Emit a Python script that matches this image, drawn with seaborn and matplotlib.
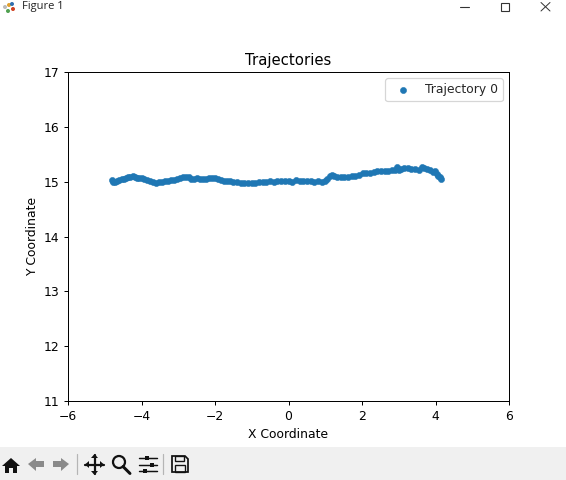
import matplotlib
matplotlib.use("Agg")
import matplotlib.pyplot as plt
from matplotlib.patches import Polygon, Circle, Rectangle
import seaborn as sns

x_values = [-4.80, -4.78, -4.72, -4.66, -4.60, -4.54, -4.48, -4.42, -4.36, -4.30, -4.24, -4.18, -4.12, -4.06, -4.00,
            -3.92, -3.84, -3.76, -3.68, -3.60, -3.52, -3.44, -3.36, -3.28, -3.20, -3.12, -3.04, -2.96, -2.88, -2.80,
            -2.72, -2.64, -2.56, -2.48, -2.40, -2.32, -2.24, -2.16, -2.08, -2.00, -1.92, -1.84, -1.76, -1.68, -1.60,
            -1.50, -1.40, -1.30, -1.20, -1.10, -1.00, -0.90, -0.80, -0.70, -0.60, -0.50, -0.40, -0.30, -0.20, -0.10,
            0.00, 0.10, 0.20, 0.30, 0.40, 0.50, 0.60, 0.70, 0.80, 0.90, 1.00, 1.06, 1.12, 1.18, 1.24,
            1.32, 1.42, 1.52, 1.62, 1.72, 1.82, 1.92, 2.02, 2.12, 2.22, 2.32, 2.42, 2.52, 2.62, 2.72,
            2.82, 2.90, 2.94, 3.00, 3.06, 3.14, 3.24, 3.34, 3.44, 3.54, 3.62, 3.70, 3.78, 3.86, 3.92,
            3.98, 4.04, 4.08, 4.12, 4.15]
y_values = [15.03, 15.00, 15.00, 15.01, 15.03, 15.04, 15.05, 15.07, 15.08, 15.08, 15.10, 15.09, 15.07, 15.07, 15.06,
            15.05, 15.03, 15.02, 14.99, 14.98, 14.99, 15.00, 15.01, 15.02, 15.03, 15.03, 15.04, 15.06, 15.08, 15.08,
            15.09, 15.05, 15.05, 15.06, 15.05, 15.05, 15.05, 15.06, 15.07, 15.07, 15.05, 15.03, 15.02, 15.01, 15.01,
            15.00, 15.00, 14.98, 14.97, 14.98, 14.98, 14.98, 14.99, 14.99, 15.00, 15.01, 15.00, 15.02, 15.02, 15.01,
            15.01, 15.00, 15.03, 15.02, 15.01, 15.02, 15.02, 15.00, 15.01, 15.00, 15.01, 15.05, 15.10, 15.12, 15.11,
            15.09, 15.09, 15.09, 15.09, 15.10, 15.11, 15.13, 15.15, 15.16, 15.16, 15.18, 15.19, 15.20, 15.20, 15.19,
            15.21, 15.22, 15.27, 15.21, 15.24, 15.25, 15.25, 15.24, 15.24, 15.22, 15.26, 15.25, 15.23, 15.21, 15.17,
            15.19, 15.14, 15.10, 15.08, 15.05]
series_label = "Trajectory 0"
title_text = "Trajectories"
x_label = "X Coordinate"
y_label = "Y Coordinate"
window_title = "Figure 1"

W, H = 566, 480
DPI = 89
sns.set_theme(style="ticks", rc={"axes.spines.top": True, "axes.spines.right": True,
                                 "axes.edgecolor": "black", "axes.labelcolor": "black",
                                 "xtick.color": "black", "ytick.color": "black",
                                 "font.family": ["DejaVu Sans"]})
fig = plt.figure(figsize=(W / DPI, H / DPI), dpi=DPI)
ax = fig.add_axes([68 / W, 1 - 401 / H, 441 / W, 329 / H])
sns.scatterplot(x=x_values, y=y_values, label=series_label, s=25, color="#1f77b4",
                edgecolor="#1f77b4", linewidth=0.4, ax=ax)
ax.set_xlim(-6, 6)
ax.set_ylim(11, 17)
ax.set_xticks(range(-6, 7, 2))
ax.set_yticks(range(11, 18))
ax.tick_params(labelsize=10, length=3.5, width=0.8)
for s in ax.spines.values():
    s.set_linewidth(0.8)
ax.set_title(title_text, fontsize=12, color="black", pad=6)
ax.set_xlabel(x_label, fontsize=10, labelpad=4)
ax.set_ylabel(y_label, fontsize=10, labelpad=4)
ax.legend(loc="upper right", fontsize=10, frameon=True, fancybox=True, framealpha=0.8)

# Window frame: title bar and toolbar, drawn on an overlay in screen pixels
ui = fig.add_axes([0, 0, 1, 1], zorder=5)
ui.set_xlim(0, W)
ui.set_ylim(H, 0)
ui.axis("off")
ui.patch.set_alpha(0)
ui.add_patch(Rectangle((0, 447), W, 33, fc="#f0f0f0", ec="none"))
ui.text(22, 7, window_title, fontsize=9, va="center", ha="left", family="Open Sans", color="#222222")
for (cx, cy, c) in [(9, 5, "#e0a030"), (13, 9, "#d04020"), (8, 11, "#50a050"), (12, 4, "#3070b0"), (5, 7, "#bbbbbb")]:
    ui.add_patch(Circle((cx, cy), 2.0, fc=c, ec="none"))
# minimise / maximise / close
ui.plot([460, 469], [7, 7], color="#333333", lw=0.9)
ui.add_patch(Rectangle((501, 2.5), 8, 8.5, fc="none", ec="#333333", lw=0.9))
ui.plot([541, 550], [2.5, 11], color="#333333", lw=0.8)
ui.plot([541, 550], [11, 2.5], color="#333333", lw=0.8)
# toolbar icons
dark, grey = "#111111", "#8a8a8a"
ui.add_patch(Polygon([(2, 466), (11, 458), (20, 466), (17, 466), (17, 473), (13, 473), (13, 468),
                      (9, 468), (9, 473), (5, 473), (5, 466)], fc=dark, ec="none"))
ui.add_patch(Polygon([(28, 464), (36, 458), (36, 461), (44, 461), (44, 467), (36, 467), (36, 471)], fc=grey, ec="none"))
ui.add_patch(Polygon([(69, 464), (61, 458), (61, 461), (53, 461), (53, 467), (61, 467), (61, 471)], fc=grey, ec="none"))
ui.plot([77, 77], [454, 474], color="#b5b5b5", lw=1)
ui.plot([85, 104], [464.5, 464.5], color=dark, lw=1.8)
ui.plot([94.5, 94.5], [455, 474], color=dark, lw=1.8)
ui.add_patch(Polygon([(85, 464.5), (89, 461), (89, 468)], fc=dark, ec="none"))
ui.add_patch(Polygon([(104, 464.5), (100, 461), (100, 468)], fc=dark, ec="none"))
ui.add_patch(Polygon([(94.5, 454), (91, 458), (98, 458)], fc=dark, ec="none"))
ui.add_patch(Polygon([(94.5, 475), (91, 471), (98, 471)], fc=dark, ec="none"))
ui.add_patch(Circle((119, 462), 6, fc="none", ec=dark, lw=1.8))
ui.plot([123, 130], [466.5, 473.5], color=dark, lw=2.4)
for yy, xx in [(458, 147), (464.5, 152), (471, 145)]:
    ui.plot([139, 157], [yy, yy], color=dark, lw=1.2)
    ui.add_patch(Rectangle((xx - 2, yy - 2), 4, 4, fc=dark, ec="none"))
ui.plot([163, 163], [454, 474], color="#b5b5b5", lw=1)
ui.add_patch(Polygon([(172, 456), (185, 456), (188, 459), (188, 472), (172, 472)], fc="none", ec=dark, lw=1.4))
ui.add_patch(Rectangle((175, 456), 9, 5, fc="none", ec=dark, lw=1.1))
ui.add_patch(Rectangle((175, 465), 10, 7, fc="none", ec=dark, lw=1.1))

fig.savefig("out.png", dpi=DPI, facecolor="white")
